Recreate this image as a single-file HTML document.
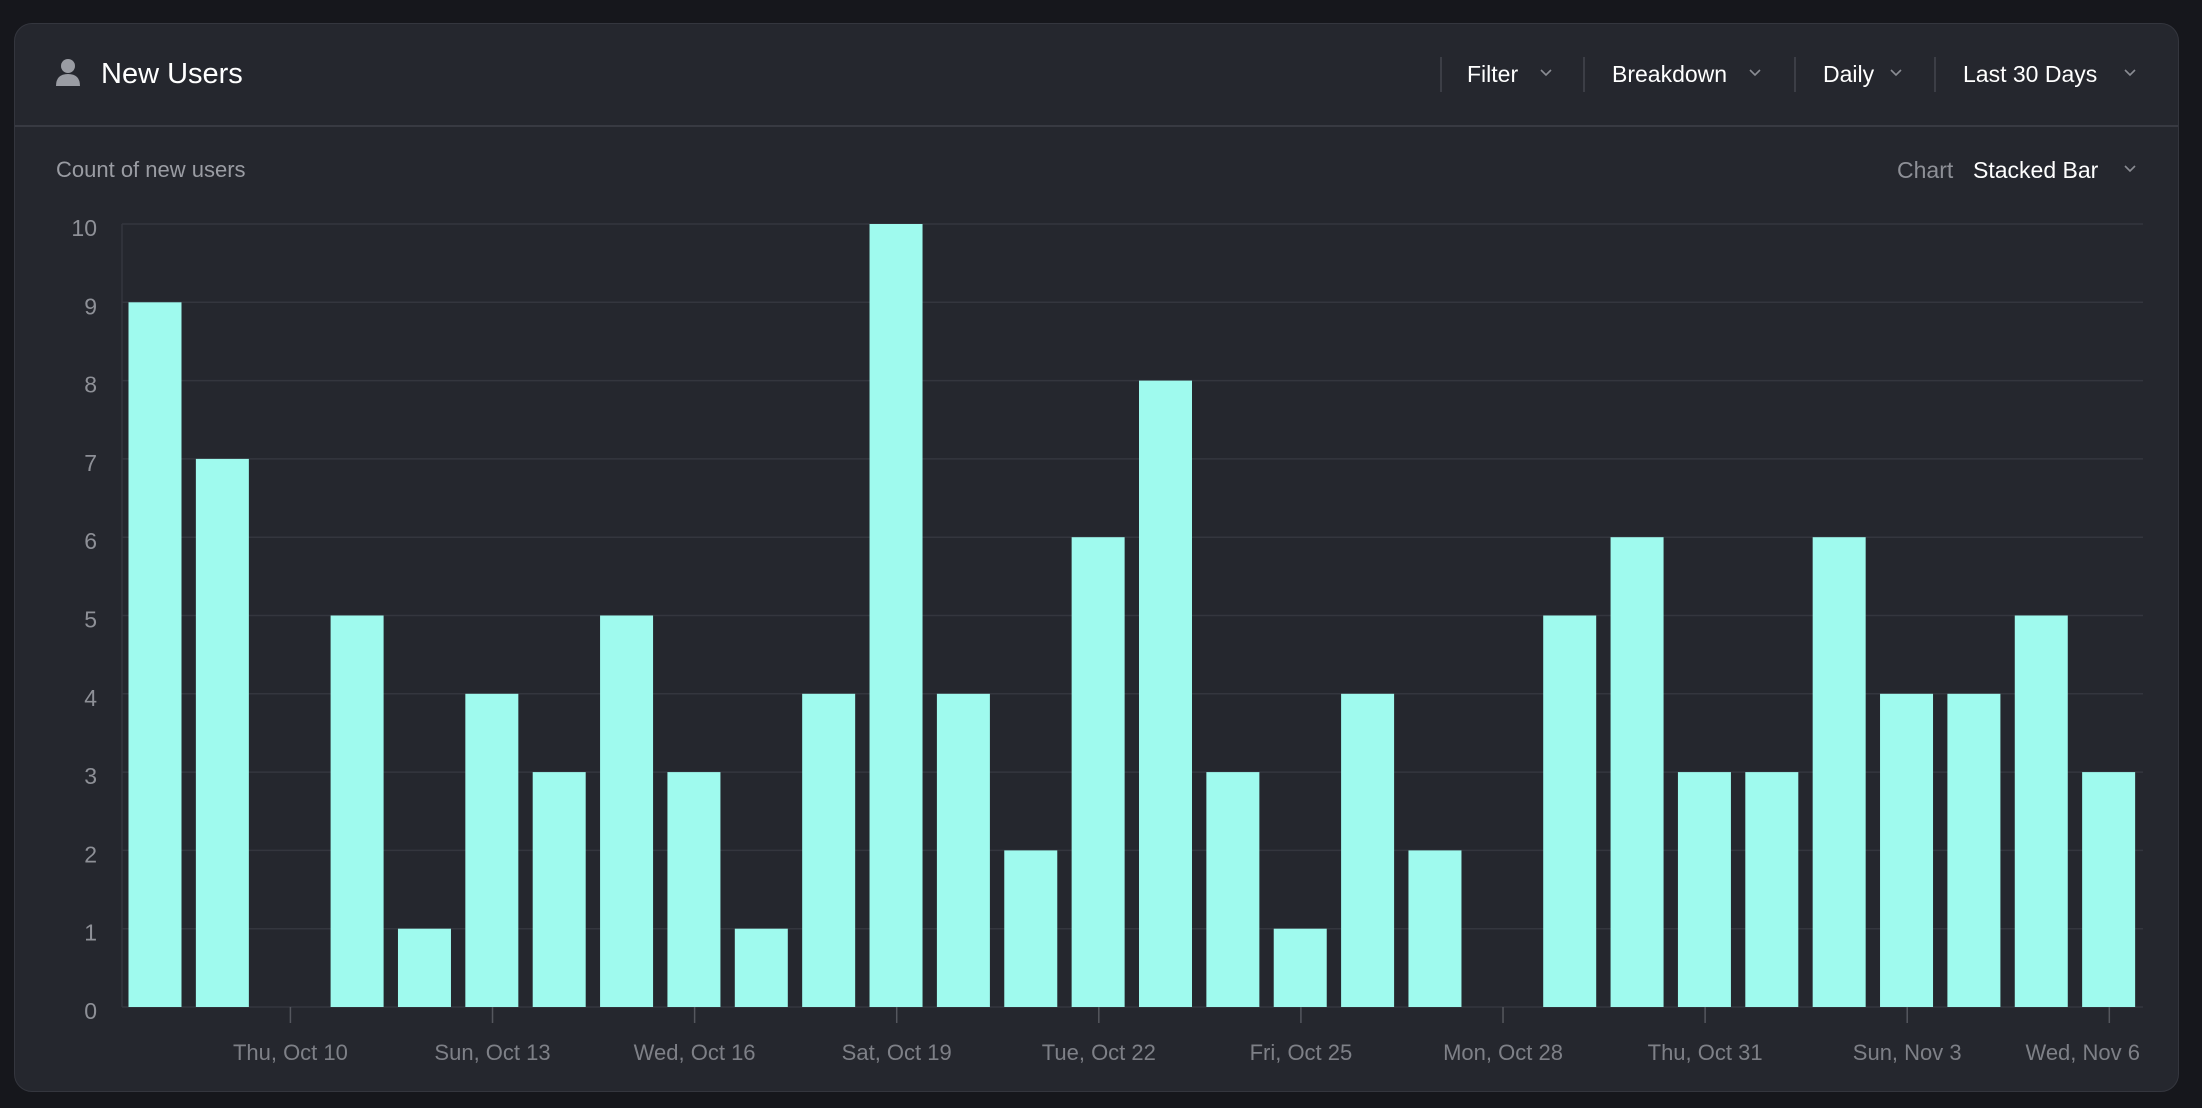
<!DOCTYPE html>
<html><head><meta charset="utf-8"><style>
body{margin:0;background:#16171c;width:2202px;height:1108px;overflow:hidden;font-family:"Liberation Sans",sans-serif}
.card{position:absolute;left:14px;top:23px;width:2165px;height:1069px;background:#25272e;border:1px solid #34363e;border-radius:18px;box-sizing:border-box}
</style></head><body>
<div class="card"></div>
<svg width="2202" height="1108" style="position:absolute;left:0;top:0" font-family="Liberation Sans, sans-serif">
<line x1="15" y1="126" x2="2178" y2="126" stroke="#383a42" stroke-width="2"/>
<circle cx="68" cy="66" r="7" fill="#9a9ca3"/>
<path d="M56 86 q0-12 12-12 q12 0 12 12z" fill="#9a9ca3"/>
<text x="101" y="83" fill="#fff" font-size="29">New Users</text>
<g stroke="#3c3e46" stroke-width="2"><line x1="1441" y1="57" x2="1441" y2="92"/><line x1="1584" y1="57" x2="1584" y2="92"/><line x1="1795" y1="57" x2="1795" y2="92"/><line x1="1935" y1="57" x2="1935" y2="92"/></g>
<g fill="#fff" font-size="23">
<text x="1467" y="82">Filter</text><text x="1612" y="82">Breakdown</text><text x="1823" y="82">Daily</text><text x="1963" y="82">Last 30 Days</text>
<text x="1973" y="178">Stacked Bar</text></g>
<g fill="none" stroke="#8a8c93" stroke-width="1.6">
<path d="M1541 70l5 5 5-5"/><path d="M1750 70l5 5 5-5"/><path d="M1891 70l5 5 5-5"/><path d="M2125 70l5 5 5-5"/><path d="M2125 166l5 5 5-5"/></g>
<text x="1897" y="178" fill="#8e9097" font-size="23">Chart</text>
<text x="56" y="177" fill="#9a9ca3" font-size="22">Count of new users</text>
<g id="grid" stroke="#34363e" stroke-width="1.5"></g>
<g id="bars" fill="#9ffaee"></g>
<g id="ylab" fill="#8e9097" font-size="23" text-anchor="end"></g>
<g id="xlab" fill="#7e8087" font-size="22" text-anchor="middle"></g>
</svg>
<script>
(function(){
var ns="http://www.w3.org/2000/svg";
function el(p,t,a,txt){var e=document.createElementNS(ns,t);for(var k in a)e.setAttribute(k,a[k]);if(txt!=null)e.textContent=txt;document.getElementById(p).appendChild(e);}
var T=224,B=1007,L=122,R=2143,u=(B-T)/10,slot=(R-L)/30;
for(var i=0;i<=10;i++){var y=B-i*u;el("grid","line",{x1:L,x2:R,y1:y,y2:y});el("ylab","text",{x:97,y:y+12},i);}
el("grid","line",{x1:L,x2:L,y1:T,y2:B});
var v=[9,7,0,5,1,4,3,5,3,1,4,10,4,2,6,8,3,1,4,2,0,5,6,3,3,6,4,4,5,3];
v.forEach(function(d,i){if(d)el("bars","rect",{x:L+i*slot+6.5,y:B-d*u,width:53,height:d*u});});
var labs=["Thu, Oct 10","Sun, Oct 13","Wed, Oct 16","Sat, Oct 19","Tue, Oct 22","Fri, Oct 25","Mon, Oct 28","Thu, Oct 31","Sun, Nov 3","Wed, Nov 6"];
labs.forEach(function(t,k){var x=L+(2+3*k+0.5)*slot;el("grid","line",{x1:x,x2:x,y1:B,y2:B+16,stroke:"#55575e"});
if(k==9)el("xlab","text",{x:2140,y:1060,"text-anchor":"end"},t);else el("xlab","text",{x:x,y:1060},t);});
})();
</script>
</body></html>
